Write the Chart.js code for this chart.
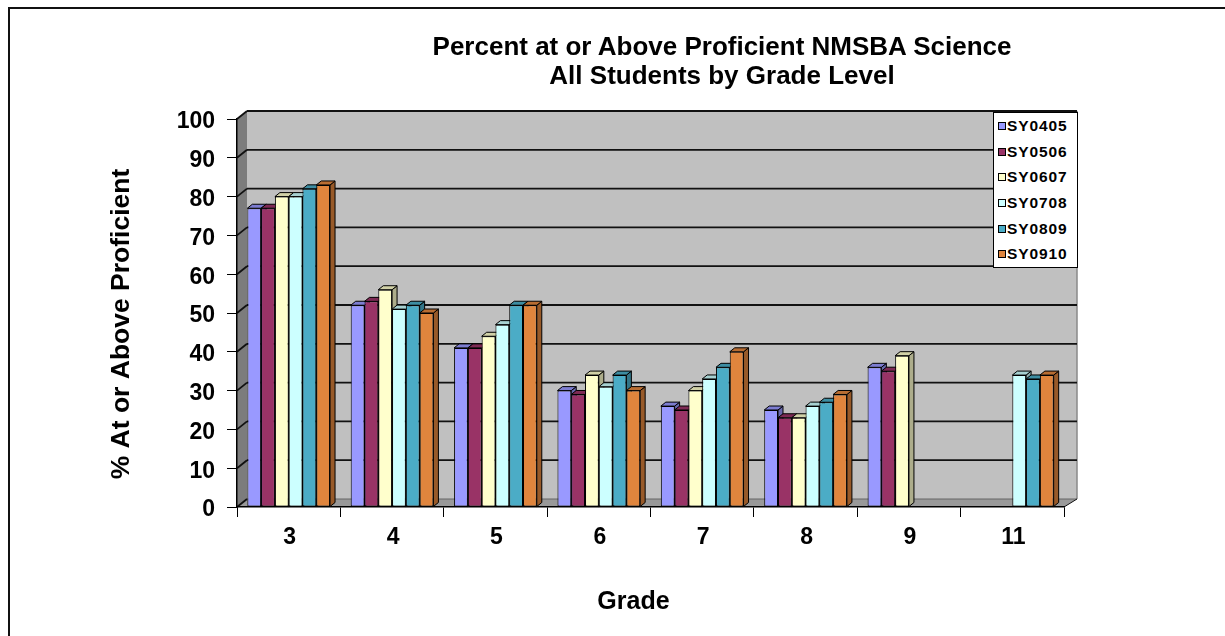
<!DOCTYPE html>
<html>
<head>
<meta charset="utf-8">
<title>Percent at or Above Proficient NMSBA Science</title>
<script src="https://cdn.jsdelivr.net/npm/chart.js@4.4.1/dist/chart.umd.min.js"></script>
<style>
  body { margin: 0; background: #fff; font-family: "Liberation Sans", Arial, sans-serif; }
  #wrap { position: relative; width: 1225px; height: 636px; overflow: hidden; }
  #frame { position: absolute; left: 8px; top: 7px; width: 1300px; height: 700px;
    border-left: 2px solid #111; border-top: 2px solid #111; }
  #chart { position: absolute; left: 0; top: 0; }
  #title { position: absolute; left: 422px; top: 32px; width: 600px; text-align: center;
    font-weight: bold; font-size: 26px; line-height: 29px; color: #000; }
  #legend { position: absolute; left: 993px; top: 112px; width: 83px; height: 154px;
    border: 1px solid #000; background: #fff; }
  #legend .item { height: 25.7px; line-height: 25.7px; font-weight: bold; font-size: 15.5px;
    letter-spacing: 0.9px; color: #000; white-space: nowrap; }
  #legend .sw { display: inline-block; width: 6px; height: 6px; border: 1px solid #000;
    margin: 0 1px 0 4px; vertical-align: 1px; }
</style>
</head>
<body>
<div id="wrap">
  <div id="frame"></div>
  <canvas id="chart" width="1225" height="636"></canvas>
  <div id="title">Percent at or Above Proficient NMSBA Science<br>All Students by Grade Level</div>
  <div id="legend"></div>
</div>
<script>
// data
const grades = ["3", "4", "5", "6", "7", "8", "9", "11"];
const seriesNames = ["SY0405", "SY0506", "SY0607", "SY0708", "SY0809", "SY0910"];
const sy0405 = [77, 52, 41, 30, 26, 25, 36, null];
const sy0506 = [77, 53, 41, 29, 25, 23, 35, null];
const sy0607 = [80, 56, 44, 34, 30, 23, 39, null];
const sy0708 = [80, 51, 47, 31, 33, 26, null, 34];
const sy0809 = [82, 52, 52, 34, 36, 27, null, 33];
const sy0910 = [83, 50, 52, 30, 40, 29, null, 34];
const yTicks = [0, 10, 20, 30, 40, 50, 60, 70, 80, 90, 100];
const xTitle = "Grade";
const yTitle = "% At or Above Proficient";

const seriesData = [sy0405, sy0506, sy0607, sy0708, sy0809, sy0910];
const seriesColors = ["#9999FF", "#993366", "#FFFFCC", "#CCFFFF", "#4BACC6", "#E0853D"];

const wallDepth = { left: 10, right: 13, up: 8 };
const barDepth = { x: 5, y: 4 };

function shade(hex, f) {
  let n = parseInt(hex.slice(1), 16);
  let r = Math.round(((n >> 16) & 255) * f);
  let g = Math.round(((n >> 8) & 255) * f);
  let b = Math.round((n & 255) * f);
  return `rgb(${r}, ${g}, ${b})`;
}

function poly(ctx, pts, fill, stroke) {
  ctx.beginPath();
  ctx.moveTo(pts[0][0], pts[0][1]);
  for (let k = 1; k < pts.length; k++) ctx.lineTo(pts[k][0], pts[k][1]);
  ctx.closePath();
  if (fill) { ctx.fillStyle = fill; ctx.fill(); }
  if (stroke) { ctx.strokeStyle = stroke; ctx.lineWidth = 1; ctx.stroke(); }
}

function line(ctx, x0, y0, x1, y1) {
  ctx.beginPath();
  ctx.moveTo(x0, y0);
  ctx.lineTo(x1, y1);
  ctx.stroke();
}

// walls, floor and back gridlines of the old excel 3d look
const excel3d = {
  id: "excel3d",
  beforeDraw(chart) {
    const { ctx, chartArea: a } = chart;
    const y = chart.scales.y;
    const bl = a.left + wallDepth.left;
    const br = a.right + wallDepth.right;
    const up = wallDepth.up;
    ctx.save();
    ctx.fillStyle = "#c0c0c0";
    ctx.fillRect(bl, a.top - up, br - bl, a.bottom - a.top);
    poly(ctx, [[a.left, a.top], [bl, a.top - up], [bl, a.bottom - up], [a.left, a.bottom]], "#7c7c7c", null);
    poly(ctx, [[a.left, a.bottom], [bl, a.bottom - up], [br, a.bottom - up], [a.right, a.bottom]], "#999999", null);

    ctx.strokeStyle = "#8a8a8a";
    ctx.lineWidth = 1.5;
    line(ctx, br, a.top - up, br, a.bottom - up);

    ctx.strokeStyle = "#111";
    ctx.lineWidth = 1.8;
    yTicks.forEach((v) => {
      let py = y.getPixelForValue(v);
      if (v > 0) line(ctx, bl, py - up, br, py - up);
      line(ctx, a.left, py, bl, py - up);
    });
    ctx.strokeStyle = "#666";
    ctx.lineWidth = 1;
    line(ctx, bl, a.bottom - up, br, a.bottom - up);
    ctx.strokeStyle = "#111";
    line(ctx, a.right, a.bottom, br, a.bottom - up);
    ctx.restore();
  },
  beforeDatasetsDraw(chart) {
    const ctx = chart.ctx;
    const metas = seriesData.map((d, i) => chart.getDatasetMeta(i));
    ctx.save();
    ctx.lineJoin = "round";
    for (let j = 0; j < grades.length; j++) {
      for (let i = 0; i < seriesData.length; i++) {
        if (seriesData[i][j] == null) continue;
        let el = metas[i].data[j];
        let x0 = el.x - el.width / 2;
        let x1 = el.x + el.width / 2;
        let top = el.y;
        let bottom = el.base;
        let dx = barDepth.x, dy = barDepth.y;
        poly(ctx, [[x1, top], [x1 + dx, top - dy], [x1 + dx, bottom - dy], [x1, bottom]],
          shade(seriesColors[i], 0.68), "#000");
        poly(ctx, [[x0, top], [x0 + dx, top - dy], [x1 + dx, top - dy], [x1, top]],
          shade(seriesColors[i], 0.82), "#000");
      }
    }
    ctx.restore();
  },
  // axis titles sit a bit off the plot centre in the original
  afterDraw(chart) {
    const ctx = chart.ctx;
    const a = chart.chartArea;
    ctx.save();
    ctx.fillStyle = "#000";
    ctx.font = "bold 25px 'Liberation Sans', Arial, sans-serif";
    ctx.textAlign = "center";
    ctx.textBaseline = "middle";
    ctx.fillText(xTitle, (a.left + a.right) / 2 - 17, 602);
    ctx.font = "bold 26.5px 'Liberation Sans', Arial, sans-serif";
    ctx.translate(122, (a.top + a.bottom) / 2 + 11);
    ctx.rotate(-Math.PI / 2);
    ctx.fillText(yTitle, 0, 0);
    ctx.restore();
  },
};

Chart.defaults.font.family = "'Liberation Sans', Arial, sans-serif";
Chart.defaults.color = "#000";

let proficiencyChart = new Chart("chart", {
  type: "bar",
  data: {
    labels: grades,
    datasets: seriesNames.map((name, i) => ({
      label: name,
      data: seriesData[i],
      backgroundColor: seriesColors[i],
      borderColor: "#000",
      borderWidth: 1,
      borderSkipped: false,
      categoryPercentage: 0.8,
      barPercentage: 1.0,
    })),
  },
  options: {
    responsive: false,
    animation: false,
    events: [],
    layout: {
      padding: { top: 119, right: 161, bottom: 0, left: 0 },
    },
    plugins: {
      legend: { display: false },
      title: { display: false },
      tooltip: { enabled: false },
    },
    scales: {
      x: {
        afterFit: (scale) => { scale.height = 129; },
        grid: {
          offset: true,
          drawOnChartArea: false,
          drawTicks: true,
          tickLength: 10,
          color: "#000",
        },
        border: { display: true, color: "#000", width: 1.5 },
        ticks: {
          font: { size: 23, weight: "bold" },
          color: "#000",
          padding: 7,
          labelOffset: 1,
        },
      },
      y: {
        min: 0,
        max: 100,
        afterFit: (scale) => { scale.width = 237; },
        grid: {
          drawOnChartArea: false,
          drawTicks: true,
          tickLength: 10,
          color: "#000",
        },
        border: { display: true, color: "#000", width: 1.5 },
        ticks: {
          stepSize: 10,
          font: { size: 23, weight: "bold" },
          color: "#000",
          padding: 12,
          labelOffset: 3,
        },
      },
    },
  },
  plugins: [excel3d],
});

let legendBox = document.getElementById("legend");
seriesNames.forEach((name, i) => {
  legendBox.innerHTML += `<div class="item"><span class="sw" style="background:${seriesColors[i]}"></span>${name}</div>`;
});
</script>
</body>
</html>
